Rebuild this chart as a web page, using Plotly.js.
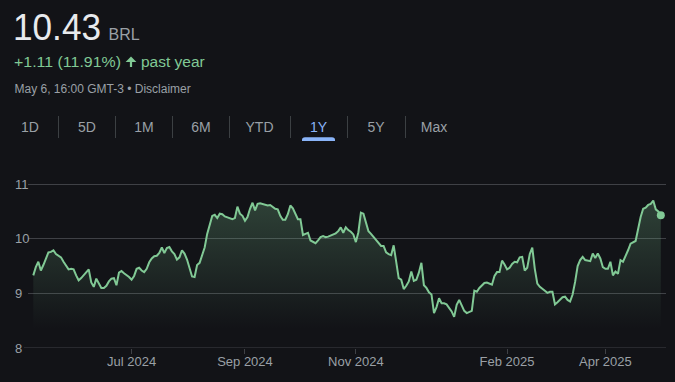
<!DOCTYPE html>
<html>
<head>
<meta charset="utf-8">
<script src="https://cdn.plot.ly/plotly-3.0.1.min.js"></script>
<style>
  html, body { margin: 0; padding: 0; background: #121317; }
  #wrap { position: relative; width: 675px; height: 382px; overflow: hidden; background: #121317; }
  #chart { position: absolute; left: 0; top: 0; width: 675px; height: 382px; }
  #head { position: absolute; left: 0; top: 0; pointer-events: none; }
  #head text { font-family: "Liberation Sans", Arial, sans-serif; }
</style>
</head>
<body>
<div id="wrap">
  <div id="chart"></div>
  <svg id="head" width="675" height="150" xmlns="http://www.w3.org/2000/svg">
    <text x="13" y="40" font-size="36" fill="#e8eaed" textLength="88" lengthAdjust="spacingAndGlyphs">10.43</text>
    <text x="108.5" y="40" font-size="16" fill="#9aa0a6">BRL</text>
    <text x="14" y="67" font-size="15.5" fill="#81c995" textLength="107" lengthAdjust="spacingAndGlyphs">+1.11 (11.91%)</text>
    <path d="M131 56.5 L125.6 62 L129.9 62 L129.9 67 L132.1 67 L132.1 62 L136.4 62 Z" fill="#81c995"/>
    <text x="141" y="67" font-size="15.5" fill="#81c995">past year</text>
    <text x="14.5" y="93" font-size="12" fill="#9aa0a6">May 6, 16:00 GMT-3 • Disclaimer</text>
    <g font-size="14" text-anchor="middle" fill="#9aa0a6">
      <text x="30" y="132">1D</text>
      <text x="87" y="132">5D</text>
      <text x="144" y="132">1M</text>
      <text x="201" y="132">6M</text>
      <text x="259.5" y="132">YTD</text>
      <text x="318.5" y="132" fill="#8ab4f8">1Y</text>
      <text x="376" y="132">5Y</text>
      <text x="434" y="132">Max</text>
    </g>
    <g stroke="#3c4043" stroke-width="1">
      <line x1="58.5" y1="116" x2="58.5" y2="138"/>
      <line x1="115.5" y1="116" x2="115.5" y2="138"/>
      <line x1="172.5" y1="116" x2="172.5" y2="138"/>
      <line x1="229.5" y1="116" x2="229.5" y2="138"/>
      <line x1="290.5" y1="116" x2="290.5" y2="138"/>
      <line x1="347.5" y1="116" x2="347.5" y2="138"/>
      <line x1="405.5" y1="116" x2="405.5" y2="138"/>
    </g>
    <path d="M302 141 L302 140 Q302 137.3 305 137.3 L332 137.3 Q335 137.3 335 140 L335 141 Z" fill="#8ab4f8"/>
  </svg>
</div>
<script>
// ---- data ----
var startDate = '2024-05-06';
var endDate = '2025-05-06';
var holidays = ['2024-05-30','2024-11-15','2024-11-20','2024-12-24','2024-12-25','2024-12-31',
                '2025-01-01','2025-03-03','2025-03-04','2025-04-18','2025-04-21','2025-05-01'];
var prices = [
  9.33, 9.48, 9.58, 9.42, 9.52, 9.65, 9.75, 9.76, 9.79, 9.72,
  9.69, 9.66, 9.58, 9.50, 9.44, 9.45, 9.44, 9.33, 9.24, 9.28,
  9.33, 9.38, 9.44, 9.20, 9.12, 9.27, 9.18, 9.10,
  9.10, 9.14, 9.22, 9.27, 9.28, 9.15, 9.38, 9.41, 9.37, 9.34,
  9.30, 9.25, 9.32, 9.45, 9.47, 9.42, 9.39, 9.45, 9.57, 9.64,
  9.68, 9.69, 9.74, 9.84, 9.74, 9.83, 9.85,
  9.77, 9.72, 9.62, 9.66, 9.79, 9.73, 9.62, 9.44, 9.31, 9.30,
  9.52, 9.56, 9.70, 9.84, 10.09, 10.28, 10.42, 10.44, 10.38, 10.46,
  10.45, 10.41, 10.39, 10.38, 10.36, 10.38, 10.59, 10.46,
  10.42, 10.33, 10.40, 10.55, 10.66, 10.52, 10.64, 10.65, 10.64, 10.62,
  10.61, 10.62, 10.58, 10.55, 10.54, 10.42, 10.35, 10.35, 10.45, 10.61,
  10.56, 10.45, 10.36, 10.36, 10.07, 10.09, 10.11, 9.97,
  9.95, 9.92, 9.97, 10.03, 10.05, 10.03, 10.04, 10.06, 10.08, 10.10,
  10.14, 10.21, 10.11, 10.21, 10.16, 10.13, 10.08, 9.94, 10.12, 10.48,
  10.46, 10.28, 10.14, 10.09, 10.03, 9.97, 9.91,
  9.87, 9.87, 9.75, 9.72, 9.70, 9.88, 9.55, 9.28, 9.25, 9.08,
  9.14, 9.22, 9.40, 9.23, 9.25, 9.38, 9.56, 9.15, 9.10, 9.02,
  8.98, 8.64, 8.75, 8.91, 8.82, 8.82, 8.80, 8.74,
  8.67, 8.57, 8.79, 8.88, 8.77, 8.68, 8.64, 8.66, 8.68, 9.05,
  9.03, 9.10, 9.15, 9.19, 9.20, 9.18, 9.16, 9.32, 9.39, 9.39,
  9.60, 9.53, 9.44, 9.47, 9.54, 9.58, 9.57, 9.66,
  9.67, 9.42, 9.47, 9.72, 9.84, 9.45, 9.18, 9.12, 9.09, 9.05,
  9.01, 9.03, 9.03, 8.80, 8.84, 8.88, 8.93, 8.94, 8.88, 8.85,
  8.98, 9.21, 9.50, 9.61, 9.67, 9.61, 9.60, 9.59, 9.73, 9.65,
  9.73, 9.64, 9.48, 9.45, 9.45, 9.58, 9.33, 9.40, 9.36, 9.61,
  9.58, 9.67, 9.79, 9.91, 9.93, 9.96, 10.18, 10.40, 10.55, 10.57,
  10.62, 10.64, 10.70, 10.54, 10.50, 10.43
];
var tickMonths = ['2024-07', '2024-09', '2024-11', '2025-02', '2025-04'];
var tickLabels = ['Jul 2024', 'Sep 2024', 'Nov 2024', 'Feb 2025', 'Apr 2025'];
var yTicks = [8, 9, 10, 11];
var yTickLabels = ['8', '9', '10', '11'];

// ---- trading-day calendar (weekdays minus exchange holidays) ----
function iso(d) { return d.toISOString().slice(0, 10); }
var tradingDays = [];
for (var d = new Date(startDate + 'T00:00:00Z'); iso(d) <= endDate; d.setUTCDate(d.getUTCDate() + 1)) {
  var wd = d.getUTCDay();
  if (wd === 0 || wd === 6) continue;
  if (holidays.indexOf(iso(d)) >= 0) continue;
  tradingDays.push(iso(d));
}
var n = Math.min(tradingDays.length, prices.length);
var xs = tradingDays.slice(tradingDays.length - n);
var ys = prices.slice(prices.length - n);

var tickVals = tickMonths.map(function (m) {
  for (var i = 0; i < xs.length; i++) if (xs[i].slice(0, 7) === m) return xs[i];
  return null;
});

var green = '#81c995';
var grid = '#3f4146';
var txt = '#9aa0a6';
var fam = 'Liberation Sans, Arial, sans-serif';

var traces = [
  {
    x: xs, y: ys, type: 'scatter', mode: 'lines',
    line: { color: green, width: 2 },
    fill: 'tozeroy',
    fillgradient: {
      type: 'vertical', start: 8.35, stop: 10.75,
      colorscale: [[0, 'rgba(129,201,149,0)'], [1, 'rgba(129,201,149,0.26)']]
    },
    hoverinfo: 'skip'
  },
  {
    x: [xs[xs.length - 1]], y: [ys[ys.length - 1]], type: 'scatter', mode: 'markers',
    marker: { color: green, size: 8 }, hoverinfo: 'skip'
  }
];

var annotations = yTicks.map(function (v, i) {
  return {
    xref: 'paper', yref: 'y', x: 0, y: v, xanchor: 'left', yanchor: 'middle',
    xshift: -15, text: yTickLabels[i], showarrow: false,
    font: { family: fam, size: 13, color: txt }
  };
});

var layout = {
  width: 675, height: 382,
  margin: { l: 28, r: 9, t: 170, b: 34, pad: 0 },
  paper_bgcolor: 'rgba(0,0,0,0)',
  plot_bgcolor: 'rgba(0,0,0,0)',
  showlegend: false,
  font: { family: fam, size: 13, color: txt },
  xaxis: {
    type: 'category', range: [-2.1, n - 1 + 2.06],
    tickmode: 'array', tickvals: tickVals, ticktext: tickLabels,
    ticks: 'outside', ticklen: 5, tickcolor: grid, tickwidth: 1,
    ticklabelstandoff: -4,
    showgrid: false, showline: false, zeroline: false,
    tickfont: { family: fam, size: 13, color: txt }
  },
  yaxis: {
    range: [8, 8 + 178 / 54.6], tickmode: 'array', tickvals: yTicks,
    showticklabels: false, showgrid: true, gridcolor: grid, gridwidth: 1,
    zeroline: false, showline: false, fixedrange: true
  },
  shapes: [
    { type: 'line', xref: 'paper', yref: 'y', x0: -0.0063, x1: 1, y0: 8, y1: 8,
      line: { color: grid, width: 1 }, layer: 'below' }
  ],
  annotations: annotations
};

Plotly.newPlot('chart', traces, layout, { staticPlot: true, displayModeBar: false });
</script>
</body>
</html>
